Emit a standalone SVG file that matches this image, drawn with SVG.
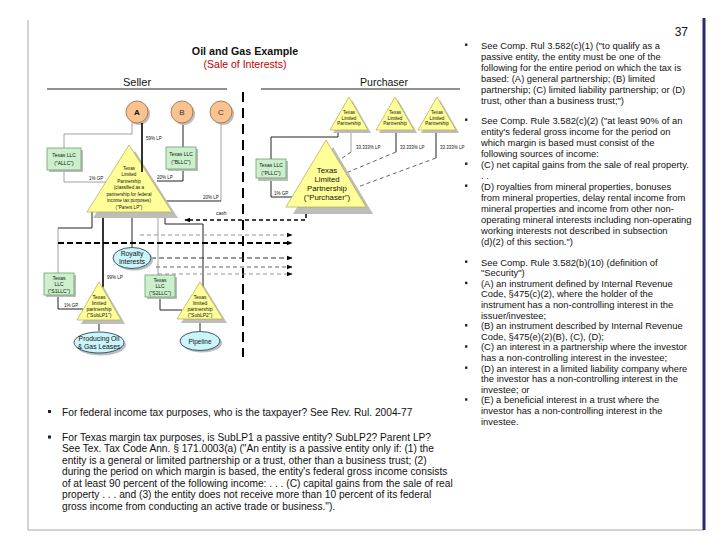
<svg xmlns="http://www.w3.org/2000/svg" width="720" height="540" viewBox="0 0 720 540">
<defs>
<style>
text{font-family:"Liberation Sans",Arial,sans-serif;fill:#111}
.tri{fill:#ffff99;stroke:#b5b55a;stroke-width:0.8}
.sh{fill:#bdbdbd;stroke:none}
.llc{fill:#ccf0cc;stroke:#6f9f6f;stroke-width:0.8}
.circ{fill:#f9c391;stroke:#9b6a3c;stroke-width:0.8}
.ell{fill:#ccf4fb;stroke:#2a4a5a;stroke-width:0.9}
.ln{stroke:#222;stroke-width:1;fill:none}
.lg{stroke:#8a8a8a;stroke-width:0.8;fill:none}
.lb{stroke:#000;stroke-width:1.6;fill:none}
.t4{font-size:4.6px;text-anchor:middle}
.t5{font-size:5px;text-anchor:middle}
.lab{font-size:4.5px}
.rt{font-size:9.4px}
.bt{font-size:10.2px}
.d1{stroke:#000;stroke-width:1.5;stroke-dasharray:4 3;fill:none}
.d2{stroke:#888;stroke-width:0.9;stroke-dasharray:4 3;fill:none}
.d3{stroke:#000;stroke-width:2;stroke-dasharray:6 3;fill:none}
.d4{stroke:#333;stroke-width:1.1;stroke-dasharray:5 3;fill:none}
.d5{stroke:#555;stroke-width:0.9;stroke-dasharray:4 3;fill:none}
.dv{stroke:#000;stroke-width:2;stroke-dasharray:10 6;fill:none}
</style>
<marker id="ah" viewBox="0 0 10 10" refX="9" refY="5" markerWidth="6" markerHeight="6" markerUnits="userSpaceOnUse" orient="auto"><path d="M0,1 L10,5 L0,9 z" fill="#000"/></marker>
</defs>
<rect width="720" height="540" fill="#fff"/>
<g id="frame">
<line x1="28" y1="20" x2="28" y2="530" stroke="#aaa" stroke-width="1"/>
<line x1="28" y1="530" x2="704" y2="530" stroke="#aaa" stroke-width="1"/>
<line x1="704" y1="18" x2="704" y2="530" stroke="#2b2d6e" stroke-width="3"/>
</g>
<g id="titles">
<text x="245" y="55" font-size="10.7" font-weight="bold" text-anchor="middle">Oil and Gas Example</text>
<text x="245" y="68" font-size="10.5" text-anchor="middle" style="fill:#c00000">(Sale of Interests)</text>
<text x="137" y="86" font-size="11" text-anchor="middle">Seller</text>
<line x1="47" y1="89" x2="227" y2="89" stroke="#222" stroke-width="1"/>
<text x="384" y="86" font-size="10.5" text-anchor="middle">Purchaser</text>
<line x1="261" y1="89" x2="460" y2="89" stroke="#222" stroke-width="1"/>
<text x="688" y="36" font-size="12" text-anchor="end">37</text>
</g>
<g id="connectors">
<path class="lg" d="M132,122 V134 H64 V182 H106"/>
<path class="ln" d="M183,123 V181 H157"/>
<path class="lg" d="M221,123 V201"/>
<path class="ln" d="M221,201 H164"/>
<path class="ln" d="M92,212 V228 H58"/>
<path class="lg" d="M58,228 V274"/>
<path class="ln" d="M58,295 V309 H83"/>
<path class="lb" d="M103,212 V289"/>
<path class="ln" d="M132,212 V247"/>
<path class="lg" d="M158,212 V275"/>
<path class="ln" d="M160,297 V310 H182"/>
<path class="ln" d="M165,212 V224 H203 V288"/>
<path class="ln" d="M99,320 V331"/>
<path class="ln" d="M200,319 V331"/>
<path class="ln" d="M338,130 V137 H271 V159"/>
<path class="ln" d="M271,178 V197 H292"/>
<path class="lg" d="M351,130 V152"/>
<path class="d5" d="M351,152 L338,161"/>
<path class="ln" d="M396,130 V152"/>
<path class="d5" d="M396,152 L346,173"/>
<path class="ln" d="M436,130 V158"/>
<path class="d5" d="M436,158 L355,188"/>
<path class="dv" d="M243,92 V357"/>
<path class="d1" d="M306,207 V220 H185" marker-end="url(#ah)"/>
<path class="d2" d="M140,235 H292" marker-end="url(#ah)"/>
<path class="d3" d="M58,243 H292" marker-end="url(#ah)"/>
<path class="d4" d="M151,258 H292" marker-end="url(#ah)"/>
<path class="d5" d="M156,267 H292" marker-end="url(#ah)"/>
<path class="d2" d="M158,274 H292" marker-end="url(#ah)"/>
<text class="lab" x="89" y="180">1% GP</text>
<text class="lab" x="146" y="140">59% LP</text>
<text class="lab" x="157" y="179">20% LP</text>
<text class="lab" x="203" y="199">20% LP</text>
<text class="lab" x="107" y="279">99% LP</text>
<text class="lab" x="64" y="307">1% GP</text>
<text class="lab" x="274" y="195">1% GP</text>
<text class="lab" x="356" y="149">33.333% LP</text>
<text class="lab" x="400" y="149">33.333% LP</text>
<text class="lab" x="440" y="149">33.333% LP</text>
<text x="216" y="215" font-size="5">cash</text>
</g>
<g id="A">
<circle cx="139" cy="114" r="11" class="sh"/>
<circle cx="137" cy="112" r="11" class="circ"/>
<text x="137" y="115" font-size="8" font-weight="bold" text-anchor="middle">A</text>
</g>
<g id="B">
<circle cx="184" cy="114" r="11" class="sh"/>
<circle cx="182" cy="112" r="11" class="circ"/>
<text x="182" y="115" font-size="8" text-anchor="middle" style="fill:#333">B</text>
</g>
<g id="C">
<circle cx="223" cy="114" r="11" class="sh"/>
<circle cx="221" cy="112" r="11" class="circ"/>
<text x="221" y="115" font-size="8" text-anchor="middle" style="fill:#333">C</text>
</g>
<g id="ALLC">
<rect x="49" y="150" width="34" height="22" class="sh"/>
<rect x="47" y="148" width="34" height="22" class="llc"/>
<text class="t5" x="64" y="157">Texas LLC</text>
<text class="t5" x="64" y="165">("ALLC")</text>
</g>
<g id="BLLC">
<rect x="168" y="149" width="30" height="22" class="sh"/>
<rect x="166" y="147" width="30" height="22" class="llc"/>
<text class="t5" x="181" y="156">Texas LLC</text>
<text class="t5" x="181" y="164">("BLLC")</text>
</g>
<g id="ParentLP">
<polygon points="135,151 93,218 178,218" class="sh"/>
<polygon points="129,145 87,212 172,212" class="tri"/>
<text class="t4" x="129" y="169.5">Texas</text>
<text class="t4" x="129" y="176">Limited</text>
<text class="t4" x="129" y="182.6">Partnership</text>
<text class="t4" x="129" y="189.1">(classified as a</text>
<text class="t4" x="129" y="195.7">partnership for federal</text>
<text class="t4" x="129" y="202.2">income tax purposes)</text>
<text class="t4" x="129" y="208.8">("Parent LP")</text>
</g>
<path class="lb" d="M142,123 V172"/>
<g id="Royalty">
<ellipse cx="134" cy="260" rx="19" ry="10.5" class="sh"/>
<ellipse cx="132" cy="258" rx="19" ry="10.5" class="ell"/>
<text x="132" y="256" font-size="6.8" text-anchor="middle">Royalty</text>
<text x="132" y="264" font-size="6.8" text-anchor="middle">Interests</text>
</g>
<g id="S1LLC">
<rect x="46" y="275" width="30" height="22" class="sh"/>
<rect x="44" y="273" width="30" height="22" class="llc"/>
<text class="t5" x="59" y="279.5">Texas</text>
<text class="t5" x="59" y="286">LLC</text>
<text class="t5" x="59" y="292.5">("S1LLC")</text>
</g>
<g id="S2LLC">
<rect x="147" y="277" width="30" height="22" class="sh"/>
<rect x="145" y="275" width="30" height="22" class="llc"/>
<text class="t5" x="160" y="281.5">Texas</text>
<text class="t5" x="160" y="288">LLC</text>
<text class="t5" x="160" y="294.5">("S2LLC")</text>
</g>
<g id="SubLP1">
<polygon points="103,286 81,324 125,324" class="sh"/>
<polygon points="99,282 77,320 121,320" class="tri"/>
<text class="t5" x="99" y="299">Texas</text>
<text class="t5" x="99" y="305">limited</text>
<text class="t5" x="99" y="311">partnership</text>
<text class="t5" x="99" y="317">("SubLP1")</text>
</g>
<g id="SubLP2">
<polygon points="204,286 181,323 227,323" class="sh"/>
<polygon points="200,282 177,319 223,319" class="tri"/>
<text class="t5" x="200" y="298.5">Texas</text>
<text class="t5" x="200" y="304.5">limited</text>
<text class="t5" x="200" y="310.5">partnership</text>
<text class="t5" x="200" y="316.5">("SubLP2")</text>
</g>
<g id="Producing">
<ellipse cx="101" cy="345" rx="25" ry="10.5" class="sh"/>
<ellipse cx="99" cy="342.5" rx="25" ry="10.5" class="ell"/>
<text x="99" y="340.5" font-size="6.8" text-anchor="middle">Producing Oil</text>
<text x="99" y="348.5" font-size="6.8" text-anchor="middle">&amp; Gas Leases</text>
</g>
<g id="Pipeline">
<ellipse cx="202" cy="343" rx="20" ry="9.5" class="sh"/>
<ellipse cx="200" cy="341" rx="20" ry="9.5" class="ell"/>
<text x="200" y="343.5" font-size="6.5" text-anchor="middle">Pipeline</text>
</g>
<g id="T1">
<polygon points="352,100 333,133 371,133" class="sh"/>
<polygon points="349,97 330,130 368,130" class="tri"/>
<text class="t4" x="349" y="114">Texas</text>
<text class="t4" x="349" y="119.5">Limited</text>
<text class="t4" x="349" y="125">Partnership</text>
</g>
<g id="T2">
<polygon points="398,100 379,133 417,133" class="sh"/>
<polygon points="395,97 376,130 414,130" class="tri"/>
<text class="t4" x="395" y="114">Texas</text>
<text class="t4" x="395" y="119.5">Limited</text>
<text class="t4" x="395" y="125">Partnership</text>
</g>
<g id="T3">
<polygon points="440,100 421,133 459,133" class="sh"/>
<polygon points="437,97 418,130 456,130" class="tri"/>
<text class="t4" x="437" y="114">Texas</text>
<text class="t4" x="437" y="119.5">Limited</text>
<text class="t4" x="437" y="125">Partnership</text>
</g>
<g id="PLLC">
<rect x="258" y="161" width="30" height="20" class="sh"/>
<rect x="256" y="159" width="30" height="19" class="llc"/>
<text class="t5" x="271" y="167">Texas LLC</text>
<text class="t5" x="271" y="174.5">("PLLC")</text>
</g>
<g id="Purchaser">
<polygon points="333,147 293,214 373,214" class="sh"/>
<polygon points="326,140 286,207 366,207" class="tri"/>
<text x="327" y="173" font-size="7.8" text-anchor="middle">Texas</text>
<text x="327" y="182" font-size="7.8" text-anchor="middle">Limited</text>
<text x="327" y="191" font-size="7.8" text-anchor="middle">Partnership</text>
<text x="327" y="200" font-size="7.8" text-anchor="middle">("Purchaser")</text>
</g>
<g id="notes-right">
<g fill="#222">
<rect x="465" y="43.5" width="2.4" height="2.4"/>
<rect x="465" y="118.5" width="2.4" height="2.4"/>
<rect x="465" y="162.5" width="2.4" height="2.4"/>
<rect x="465" y="184.5" width="2.4" height="2.4"/>
<rect x="465" y="260.5" width="2.4" height="2.4"/>
<rect x="465" y="281.7" width="2.4" height="2.4"/>
<rect x="465" y="324.1" width="2.4" height="2.4"/>
<rect x="465" y="345.3" width="2.4" height="2.4"/>
<rect x="465" y="366.5" width="2.4" height="2.4"/>
<rect x="465" y="398.3" width="2.4" height="2.4"/>
</g>
<text class="rt" x="481" y="48.5">See Comp. Rul 3.582(c)(1) ("to qualify as a</text>
<text class="rt" x="481" y="59.5">passive entity, the entity must be one of the</text>
<text class="rt" x="481" y="70.5">following for the entire period on which the tax is</text>
<text class="rt" x="481" y="81.5">based: (A) general partnership; (B) limited</text>
<text class="rt" x="481" y="92.5">partnership; (C) limited liability partnership; or (D)</text>
<text class="rt" x="481" y="103.5">trust, other than a business trust;")</text>
<text class="rt" x="481" y="123.5">See Comp. Rule 3.582(c)(2) ("at least 90% of an</text>
<text class="rt" x="481" y="134.5">entity's federal gross income for the period on</text>
<text class="rt" x="481" y="145.5">which margin is based must consist of the</text>
<text class="rt" x="481" y="156.5">following sources of income:</text>
<text class="rt" x="481" y="167.5">(C)  net capital gains from the sale of real property.</text>
<text class="rt" x="481" y="178.5">. .</text>
<text class="rt" x="481" y="189.5">(D)  royalties from mineral properties, bonuses</text>
<text class="rt" x="481" y="200.5">from mineral properties, delay rental income from</text>
<text class="rt" x="481" y="211.5">mineral properties and income from other non-</text>
<text class="rt" x="481" y="222.5">operating mineral interests including non-operating</text>
<text class="rt" x="481" y="233.5">working interests not described in subsection</text>
<text class="rt" x="481" y="244.5">(d)(2) of this section.")</text>
<text class="rt" x="481" y="265.5">See Comp. Rule 3.582(b)(10) (definition of</text>
<text class="rt" x="481" y="276.1">"Security")</text>
<text class="rt" x="481" y="286.7">(A)  an instrument defined by Internal Revenue</text>
<text class="rt" x="481" y="297.3">Code, §475(c)(2), where the holder of the</text>
<text class="rt" x="481" y="307.9">instrument has a non-controlling interest in the</text>
<text class="rt" x="481" y="318.5">issuer/investee;</text>
<text class="rt" x="481" y="329.1">(B)  an instrument described by Internal Revenue</text>
<text class="rt" x="481" y="339.7">Code, §475(e)(2)(B), (C), (D);</text>
<text class="rt" x="481" y="350.3">(C)  an interest in a partnership where the investor</text>
<text class="rt" x="481" y="360.9">has a non-controlling interest in the investee;</text>
<text class="rt" x="481" y="371.5">(D)  an interest in a limited liability company where</text>
<text class="rt" x="481" y="382.1">the investor has a non-controlling interest in the</text>
<text class="rt" x="481" y="392.7">investee; or</text>
<text class="rt" x="481" y="403.3">(E)  a beneficial interest in a trust where the</text>
<text class="rt" x="481" y="413.9">investor has a non-controlling interest in the</text>
<text class="rt" x="481" y="424.5">investee.</text>
</g>
<g id="notes-bottom">
<g fill="#222">
<rect x="48" y="410" width="3" height="3"/>
<rect x="48" y="435.5" width="3" height="3"/>
</g>
<text class="bt" x="62" y="415.5">For federal income tax purposes, who is the taxpayer?  See Rev. Rul. 2004-77</text>
<text class="bt" x="62" y="440.5">For Texas margin tax purposes, is SubLP1 a passive entity?  SubLP2?  Parent LP?</text>
<text class="bt" x="62" y="452">See Tex. Tax Code Ann. § 171.0003(a) ("An entity is a passive entity only if: (1) the</text>
<text class="bt" x="62" y="463.5">entity is a general or limited partnership or a trust, other than a business trust; (2)</text>
<text class="bt" x="62" y="475">during the period on which margin is based, the entity's federal gross income consists</text>
<text class="bt" x="62" y="486.5">of at least 90 percent of the following income: . . . (C) capital gains from the sale of real</text>
<text class="bt" x="62" y="498">property . . . and (3) the entity does not receive more than 10 percent of its federal</text>
<text class="bt" x="62" y="509.5">gross income from conducting an active trade or business.").</text>
</g>
</svg>
